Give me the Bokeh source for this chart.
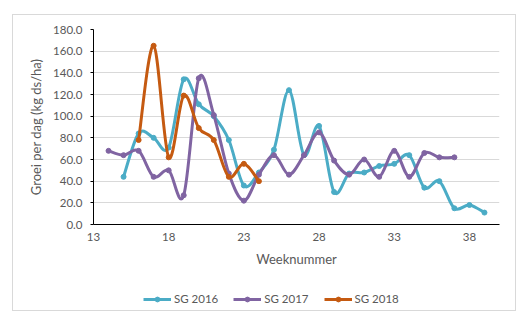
from bokeh.plotting import figure
from bokeh.layouts import column
from bokeh.models import Range1d, FixedTicker, NumeralTickFormatter, Legend, LegendItem, ColumnDataSource
from bokeh.embed import file_html
from bokeh.resources import INLINE

# ---- data ----
weeks_2016 = [15, 16, 17, 18, 19, 20, 21, 22, 23, 24, 25, 26, 27, 28, 29, 30, 31, 32, 33, 34, 35, 36, 37, 38, 39]
sg_2016 = [44, 84, 80, 71, 134, 111, 100, 78, 36, 48, 69, 124, 64, 91, 30, 47, 48, 54, 56, 64, 34, 40, 15, 18, 11]

weeks_2017 = [14, 15, 16, 17, 18, 19, 20, 21, 22, 23, 24, 25, 26, 27, 28, 29, 30, 31, 32, 33, 34, 35, 36, 37]
sg_2017 = [68, 64, 68, 44, 50, 27, 135, 101, 47, 22, 46, 64, 46, 64, 85, 59, 46, 60, 44, 68, 44, 66, 62, 62]

weeks_2018 = [16, 17, 18, 19, 20, 21, 22, 23, 24]
sg_2018 = [78, 165, 62, 119, 89, 78, 44, 56, 40]

series_names = ["SG 2016", "SG 2017", "SG 2018"]
series_colors = ["#4BACC6", "#8064A2", "#C55A11"]

x_ticks = [13, 18, 23, 28, 33, 38]
y_ticks = [0, 20, 40, 60, 80, 100, 120, 140, 160, 180]

TEXT = "#595959"
FONT = "Lato"


def smooth_segments(xs, ys):
    """Cubic Bezier segments (Excel-style smoothed line) through the data points."""
    n = len(xs)
    d = dict(x0=[], y0=[], x1=[], y1=[], cx0=[], cy0=[], cx1=[], cy1=[])
    for i in range(n - 1):
        a = max(i - 1, 0)
        b = min(i + 2, n - 1)
        d["x0"].append(xs[i]); d["y0"].append(ys[i])
        d["x1"].append(xs[i + 1]); d["y1"].append(ys[i + 1])
        d["cx0"].append(xs[i] + (xs[i + 1] - xs[a]) / 6.0)
        d["cy0"].append(ys[i] + (ys[i + 1] - ys[a]) / 6.0)
        d["cx1"].append(xs[i + 1] - (xs[b] - xs[i]) / 6.0)
        d["cy1"].append(ys[i + 1] - (ys[b] - ys[i]) / 6.0)
    return ColumnDataSource(d)


p = figure(frame_width=406, frame_height=195,
           x_range=Range1d(13, 40), y_range=Range1d(0, 180),
           output_backend="svg", toolbar_location=None,
           min_border_left=80, min_border_right=16, min_border_top=14, min_border_bottom=46)
p.outline_line_color = None
p.background_fill_color = "white"
p.border_fill_color = "white"

# grid
p.xgrid.grid_line_color = None
p.ygrid.grid_line_color = "#d9d9d9"
p.ygrid.grid_line_width = 1
p.ygrid.ticker = FixedTicker(ticks=y_ticks)

# axes
p.xaxis.ticker = FixedTicker(ticks=x_ticks)
p.yaxis.ticker = FixedTicker(ticks=y_ticks)
p.yaxis.formatter = NumeralTickFormatter(format="0.0")
for ax in (p.xaxis, p.yaxis):
    ax.axis_line_color = "#000000"
    ax.axis_line_width = 1
    ax.minor_tick_line_color = None
    ax.major_tick_in = 0
    ax.major_label_text_font = FONT
    ax.major_label_text_font_size = "11.5px"
    ax.major_label_text_color = TEXT
    ax.axis_label_text_font = FONT
    ax.axis_label_text_font_size = "13px"
    ax.axis_label_text_font_style = "normal"
    ax.axis_label_text_color = TEXT
p.xaxis.major_tick_out = 0
p.xaxis.major_tick_line_color = None
p.yaxis.major_tick_out = 3
p.yaxis.major_tick_line_color = "#000000"
p.xaxis.major_label_standoff = 8
p.yaxis.major_label_standoff = 8
p.xaxis.axis_label = "Weeknummer"
p.yaxis.axis_label = "Groei per dag (kg ds/ha)"
p.xaxis.axis_label_standoff = 7
p.yaxis.axis_label_standoff = 6

all_weeks = [weeks_2016, weeks_2017, weeks_2018]
all_values = [sg_2016, sg_2017, sg_2018]

for name, color, xs, ys in zip(series_names, series_colors, all_weeks, all_values):
    src = smooth_segments(xs, ys)
    p.bezier(x0="x0", y0="y0", x1="x1", y1="y1", cx0="cx0", cy0="cy0", cx1="cx1", cy1="cy1",
             source=src, line_color=color, line_width=3, line_cap="round")
    p.scatter(xs, ys, marker="circle", size=5, fill_color=color, line_color=color)

# ---- legend strip below the plot (its own small figure, legend drawn inside its frame) ----
pl = figure(width=502, height=40, x_range=Range1d(0, 1), y_range=Range1d(0, 1),
            x_axis_type=None, y_axis_type=None,
            output_backend="svg", toolbar_location=None,
            min_border_left=0, min_border_right=0, min_border_top=0, min_border_bottom=0)
pl.outline_line_color = None
pl.background_fill_color = "white"
pl.border_fill_color = "white"

items = []
for name, color, xs, ys in zip(series_names, series_colors, all_weeks, all_values):
    # same series, outside this strip's visible range: only their legend swatches show
    ln = pl.line(xs, ys, line_color=color, line_width=3)
    mk = pl.scatter(xs, ys, marker="circle", size=5, fill_color=color, line_color=color)
    items.append(LegendItem(label=name, renderers=[ln, mk]))

legend = Legend(items=items, orientation="horizontal", location=(50, 5),
                label_text_font=FONT, label_text_font_size="11.5px", label_text_color=TEXT,
                glyph_width=28, glyph_height=12, label_standoff=3, spacing=15,
                padding=4, margin=0, border_line_color=None, background_fill_alpha=0)
pl.add_layout(legend, "center")

layout = column(p, pl, margin=(15, 15, 4, 13),
                styles={"outline": "1px solid #d9d9d9"})

open("out.html", "w").write(file_html(layout, INLINE))
